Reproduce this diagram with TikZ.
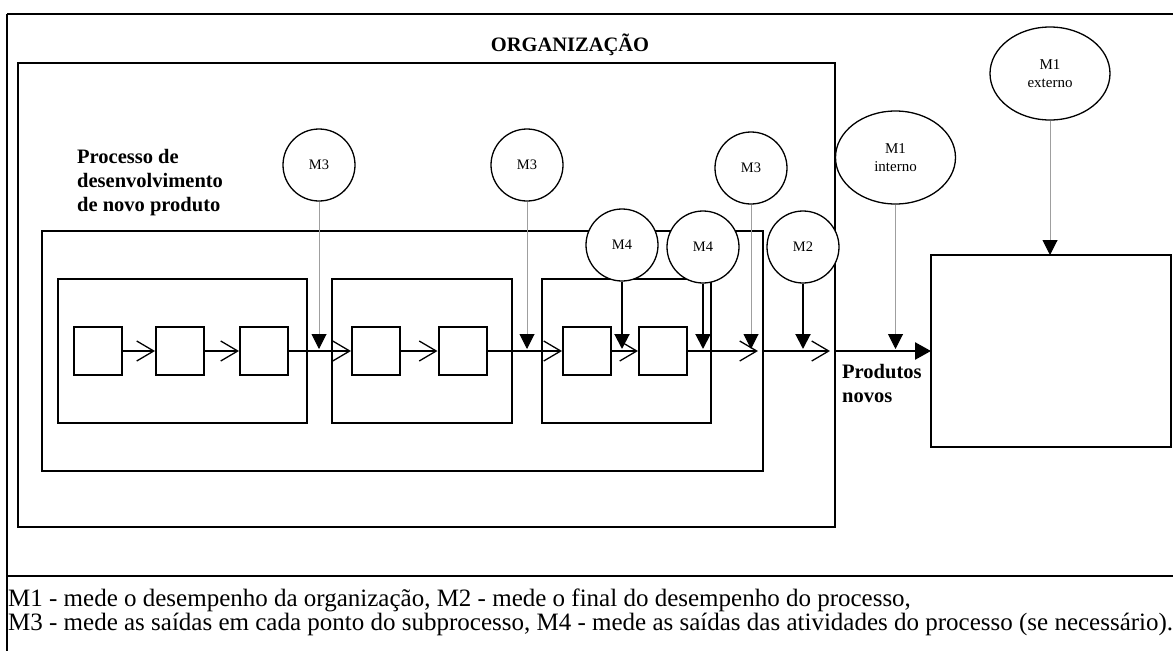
\documentclass[tikz,border=0pt]{standalone}
\usepackage{fontspec}
\setmainfont{Liberation Serif}
\usetikzlibrary{arrows.meta,shapes.geometric,calc}

\tikzset{
  frameline/.style={line width=2pt,draw=black},
  boxline/.style={line width=2pt,draw=black},
  actbox/.style={draw=black,line width=2pt,minimum width=48pt,minimum height=48pt,inner sep=0pt},
  meter/.style={circle,draw=black,line width=1.3pt,minimum size=72pt,inner sep=0pt,font=\fontsize{14.5}{17}\selectfont,fill=white},
  meterel/.style={ellipse,draw=black,line width=1.3pt,minimum width=120pt,minimum height=93pt,inner sep=0pt,font=\fontsize{15}{18}\selectfont,align=center,fill=white},
  flow/.style={line width=1.3pt,-{Straight Barb[length=17pt,width=20pt,line width=1.3pt]}},
  probe/.style={line width=1pt,draw=gray!75,-{Triangle[length=15pt,width=15pt,fill=black,color=black]}},
  probek/.style={line width=2pt,draw=black,-{Triangle[length=15pt,width=15pt]}},
  % multi-line labels: the base anchor sits on the last line
  boldlbl/.style={font=\bfseries\fontsize{20.5}{24}\selectfont,align=left,inner sep=0pt,anchor=base west},
  legend/.style={anchor=base west,inner sep=0pt,font=\fontsize{25}{24}\selectfont},
}

\begin{document}
\begin{tikzpicture}[x=1pt,y=-1pt]
\useasboundingbox (0,0) rectangle (1173,651);

% outer frame and legend separator
\draw[frameline] (7,14) -- (1173,14);
\draw[frameline] (7,14) -- (7,651);
\draw[frameline] (7,576) -- (1173,576);

% organisation
\node[font=\bfseries\fontsize{20.5}{24}\selectfont,anchor=base,inner sep=0pt] (orgtitle) at (570,51) {ORGANIZAÇÃO};
\draw[boxline] (18,63) rectangle (835,527);
\coordinate (orgE) at (835,351);

% development process
\node[boldlbl] (proclbl) at (77,211) {Processo de\\desenvolvimento\\de novo produto};
\draw[boxline] (42,231) rectangle (763,471);
\coordinate (procE) at (763,351);

% sub-processes
\draw[boxline] (58,279) rectangle (307,423);
\draw[boxline] (332,279) rectangle (512,423);
\draw[boxline] (542,279) rectangle (711,423);

% activities
\node[actbox] (a1) at (97.5,351) {};
\node[actbox] (a2) at (180,351) {};
\node[actbox] (a3) at (264,351) {};
\node[actbox] (a4) at (376,351) {};
\node[actbox] (a5) at (462.5,351) {};
\node[actbox] (a6) at (587,351) {};
\node[actbox] (a7) at (663,351) {};

% market
\draw[boxline] (931,255) rectangle (1171,447);
\coordinate (mktW) at (931,351);
\coordinate (mktN) at (1050,255);

% flow between activities
\draw[flow] (a1.east) -- (a2.west);
\draw[flow] (a2.east) -- (a3.west);
\draw[flow] (a3.east) -- (a4.west);
\draw[flow] (a4.east) -- (a5.west);
\draw[flow] (a5.east) -- (a6.west);
\draw[flow] (a6.east) -- (a7.west);
\draw[flow] (a7.east) -- ([xshift=-5pt]procE);
\draw[flow] (procE) -- ([xshift=-5pt]orgE);
\draw[line width=2.5pt,-{Triangle[length=16pt,width=17pt]}] (orgE) -- (mktW);
\node[boldlbl] (prodlbl) at (842,402) {Produtos\\novos};

% measurement points
\node[meter] (m3a) at (319,165) {M3};
\node[meter] (m3b) at (527,165) {M3};
\node[meter] (m3c) at (751,168) {M3};
\node[meter] (m4a) at (622,245) {M4};
\node[meter] (m4b) at (703,247) {M4};
\node[meter] (m2) at (803,247) {M2};
\node[meterel] (m1i) at (895.5,157.5) {M1\\interno};
\node[meterel] (m1e) at (1050,73.5) {M1\\externo};

\coordinate (tipy) at (0,349);
\draw[probe] (m3a.south) -- (m3a.south |- tipy);
\draw[probe] (m3b.south) -- (m3b.south |- tipy);
\draw[probe] (m3c.south) -- (m3c.south |- tipy);
\draw[probek] (m4a.south) -- (m4a.south |- tipy);
\draw[probek] (m4b.south) -- (m4b.south |- tipy);
\draw[probek] (m2.south) -- (m2.south |- tipy);
\draw[probe] (m1i.south) -- (m1i.south |- tipy);
\draw[probe] (m1e.south) -- (mktN);

% legend
\node[legend] (leg1) at (8,606) {M1 - mede o desempenho da organização, M2 - mede o final do desempenho do processo,};
\node[legend] (leg2) at (8,630) {M3 - mede as saídas em cada ponto do subprocesso, M4 - mede as saídas das atividades do processo (se necessário).};
\end{tikzpicture}
\end{document}
